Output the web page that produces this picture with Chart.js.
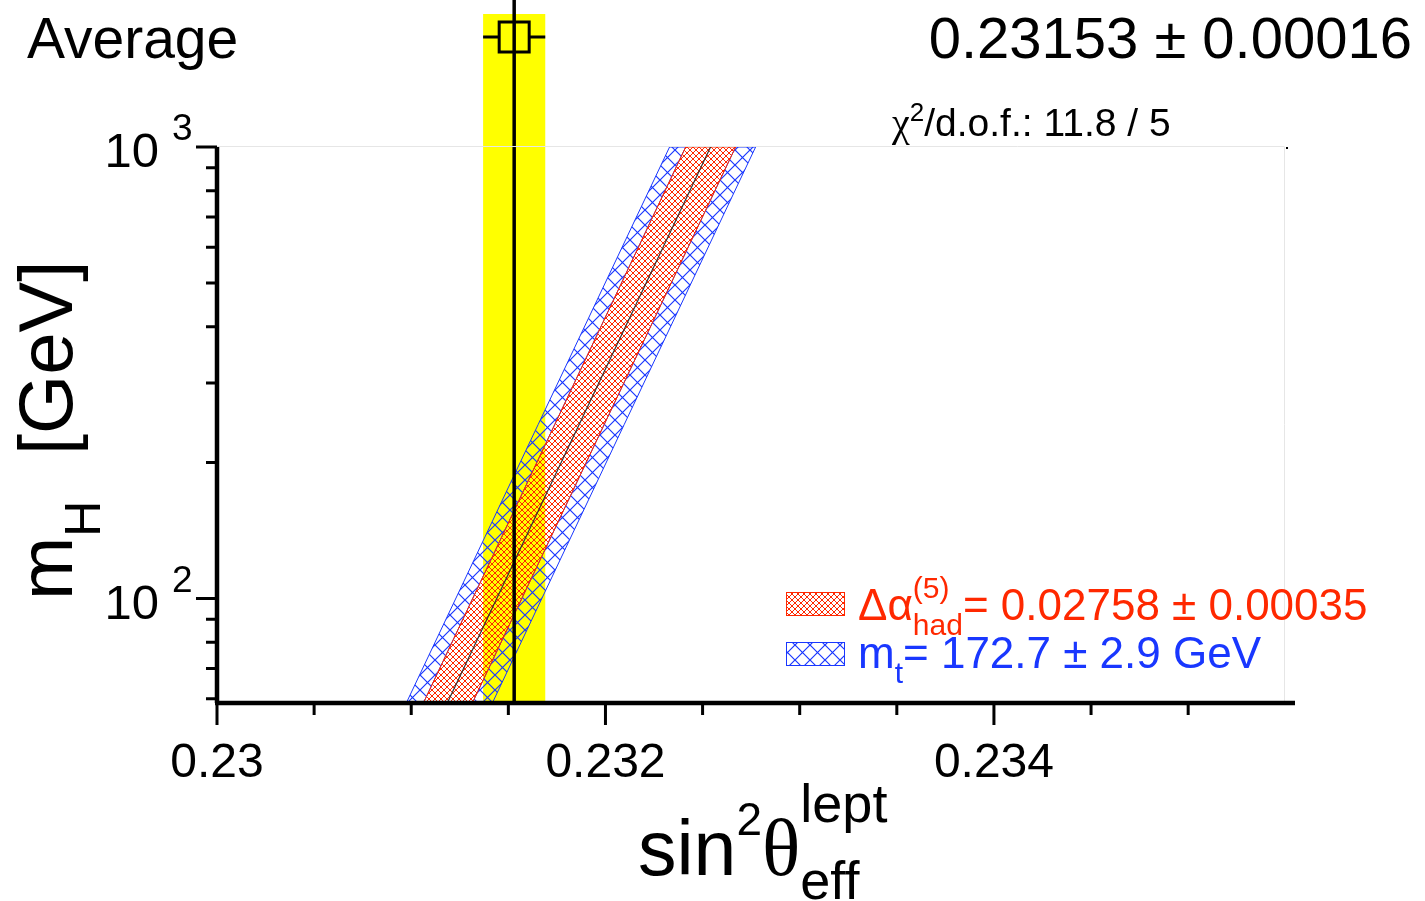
<!DOCTYPE html>
<html>
<head>
<meta charset="utf-8">
<script src="https://cdn.jsdelivr.net/npm/chart.js@4.4.1/dist/chart.umd.min.js"></script>
<style>
  html, body { margin: 0; padding: 0; background: #fff; }
  #wrap { width: 1425px; height: 901px; position: relative; }
</style>
</head>
<body>
<div id="wrap"><canvas id="c" width="1425" height="901"></canvas></div>
<script>
// band edges (sin2theta), sampled at both ends of the mH range
const mH       = [59, 1000]
const blueLow  = [0.230977, 0.232330]
const redLow   = [0.231065, 0.232413]
const central  = [0.231188, 0.232541]
const redHigh  = [0.231317, 0.232670]
const blueHigh = [0.231420, 0.232773]

const average    = 0.23153
const averageErr = 0.00016

const xMajorTicks  = [0.23, 0.232, 0.234]
const xMajorLabels = ['0.23', '0.232', '0.234']
const xMinorTicks  = [0.2305, 0.231, 0.2315, 0.2325, 0.233, 0.2335, 0.2345, 0.235]
const yMajorTicks  = [100, 1000]
const yMajorExp    = ['2', '3']
const yMinorTicks  = [60, 70, 80, 90, 200, 300, 400, 500, 600, 700, 800, 900]

const RED  = 'rgb(255,40,0)'
const BLUE = 'rgb(25,55,255)'
const SANS = '"Liberation Sans", Arial, Helvetica, sans-serif'
const SERIF = '"Liberation Serif", "Times New Roman", serif'

function hatch(color, size, width) {
  const c = document.createElement('canvas')
  c.width = c.height = size
  const g = c.getContext('2d')
  g.strokeStyle = color
  g.lineWidth = width
  g.beginPath()
  for (let k = -1; k <= 1; k++) {
    g.moveTo(k * size, 0); g.lineTo(k * size + size, size)
    g.moveTo(k * size + size, 0); g.lineTo(k * size, size)
  }
  g.stroke()
  return g.createPattern(c, 'repeat')
}
const redHatch  = hatch(RED, 6, 1)
const blueHatch = hatch(BLUE, 15, 1.2)

const strip = (lo, hi) => [
  { x: lo[0], y: mH[0] }, { x: lo[1], y: mH[1] },
  { x: hi[1], y: mH[1] }, { x: hi[0], y: mH[0] },
]

// draw a run of text pieces; a piece can be {t,size,dy,fam,color} or a stacked {sup,sub,size,up,down}
function rich(ctx, x, y, parts, align, color) {
  const w = p => {
    if (p.sup !== undefined) {
      ctx.font = `${p.size}px ${SANS}`
      return Math.max(ctx.measureText(p.sup).width, ctx.measureText(p.sub).width)
    }
    ctx.font = `${p.size}px ${p.fam || SANS}`
    return ctx.measureText(p.t).width
  }
  let total = 0
  for (const p of parts) total += w(p)
  let cx = align === 'right' ? x - total : align === 'center' ? x - total / 2 : x
  ctx.textAlign = 'left'
  ctx.textBaseline = 'alphabetic'
  for (const p of parts) {
    const pw = w(p)
    ctx.fillStyle = p.color || color || '#000'
    if (p.sup !== undefined) {
      ctx.font = `${p.size}px ${SANS}`
      ctx.fillText(p.sup, cx, y - p.up)
      ctx.fillText(p.sub, cx, y + p.down)
    } else {
      ctx.font = `${p.size}px ${p.fam || SANS}`
      ctx.fillText(p.t, cx, y + (p.dy || 0))
    }
    cx += pw
  }
}

const decor = {
  id: 'decor',
  beforeDatasetsDraw(chart) {
    const { ctx, chartArea, scales: { x } } = chart
    const l = x.getPixelForValue(average - averageErr)
    const r = x.getPixelForValue(average + averageErr)
    ctx.save()
    ctx.fillStyle = '#ffff00'
    ctx.fillRect(l, 14, r - l, chartArea.bottom - 14)
    ctx.restore()
  },
  afterDatasetsDraw(chart) {
    const { ctx, chartArea, scales: { x } } = chart
    const cxp = x.getPixelForValue(average)
    const l = x.getPixelForValue(average - averageErr)
    const r = x.getPixelForValue(average + averageErr)
    ctx.save()
    ctx.strokeStyle = '#000'
    ctx.lineWidth = 3.5
    ctx.beginPath()
    ctx.moveTo(cxp, 0); ctx.lineTo(cxp, chartArea.bottom)
    ctx.stroke()
    // marker with error bar
    const my = 37, h = 15
    ctx.lineWidth = 3
    ctx.strokeRect(cxp - h, my - h, 2 * h, 2 * h)
    ctx.beginPath()
    ctx.moveTo(l, my); ctx.lineTo(cxp - h, my)
    ctx.moveTo(cxp + h, my); ctx.lineTo(r, my)
    ctx.stroke()
    ctx.restore()
  },
  afterDraw(chart) {
    const { ctx, chartArea: a, scales: { x, y } } = chart
    ctx.save()
    // faint frame top / right
    ctx.strokeStyle = '#e6e6e6'
    ctx.lineWidth = 1
    ctx.beginPath()
    ctx.moveTo(a.left, a.top - 0.5); ctx.lineTo(1284.5, a.top - 0.5)
    ctx.moveTo(1284.5, a.top); ctx.lineTo(1284.5, a.bottom)
    ctx.stroke()
    ctx.fillStyle = '#000'
    ctx.fillRect(1286, 147, 2, 2)

    // axes
    ctx.strokeStyle = '#000'
    ctx.lineWidth = 4.5
    ctx.beginPath()
    ctx.moveTo(a.left, a.top); ctx.lineTo(a.left, a.bottom + 1)
    ctx.moveTo(a.left - 2, a.bottom + 1); ctx.lineTo(a.right, a.bottom + 1)
    ctx.stroke()

    ctx.lineWidth = 3
    ctx.beginPath()
    for (const v of xMajorTicks) {
      const px = x.getPixelForValue(v)
      ctx.moveTo(px, a.bottom + 1); ctx.lineTo(px, a.bottom + 23)
    }
    for (const v of xMinorTicks) {
      const px = x.getPixelForValue(v)
      ctx.moveTo(px, a.bottom + 1); ctx.lineTo(px, a.bottom + 13)
    }
    for (const v of yMajorTicks) {
      const py = y.getPixelForValue(v)
      ctx.moveTo(a.left, py); ctx.lineTo(a.left - 21, py)
    }
    for (const v of yMinorTicks) {
      const py = y.getPixelForValue(v)
      ctx.moveTo(a.left, py); ctx.lineTo(a.left - 11, py)
    }
    ctx.stroke()

    // tick labels
    ctx.fillStyle = '#000'
    ctx.textBaseline = 'alphabetic'
    xMajorTicks.forEach((v, i) => {
      ctx.font = `48px ${SANS}`
      ctx.textAlign = 'center'
      ctx.fillText(xMajorLabels[i], x.getPixelForValue(v), 777)
    })
    yMajorTicks.forEach((v, i) => {
      const py = y.getPixelForValue(v)
      ctx.font = `49px ${SANS}`
      ctx.textAlign = 'right'
      ctx.fillText('10', 159, py + 20)
      ctx.font = `37px ${SANS}`
      ctx.textAlign = 'left'
      ctx.fillText(yMajorExp[i], 172, py - 7)
    })

    // titles
    rich(ctx, 27, 58, [{ t: 'Average', size: 57 }], 'left')
    rich(ctx, 1412, 58, [{ t: '0.23153 \u00b1 0.00016', size: 58 }], 'right')
    rich(ctx, 892, 136, [
      { t: '\u03c7', size: 40, fam: SERIF },
      { t: '2', size: 26, dy: -15 },
      { t: '/d.o.f.: 11.8 / 5', size: 39 },
    ], 'left')

    // x axis title
    rich(ctx, 638, 875, [
      { t: 'sin', size: 77 },
      { t: '2', size: 46, dy: -40 },
      { t: '\u03b8', size: 80, fam: SERIF },
      { sup: 'lept', sub: 'eff', size: 54, up: 53, down: 24 },
    ], 'left')

    // y axis title (rotated)
    ctx.save()
    ctx.translate(72, 600)
    ctx.rotate(-Math.PI / 2)
    rich(ctx, 0, 0, [
      { t: 'm', size: 76 },
      { t: 'H', size: 50, dy: 28 },
    ], 'left')
    rich(ctx, 145, 0, [{ t: '[GeV]', size: 76 }], 'left')
    ctx.restore()

    // legend
    const sw = [[RED, redHatch, 592], [BLUE, blueHatch, 642]]
    for (const [col, pat, top] of sw) {
      ctx.fillStyle = pat
      ctx.fillRect(786, top, 59, 24)
      ctx.strokeStyle = col
      ctx.lineWidth = 1
      ctx.strokeRect(786.5, top + 0.5, 58, 23)
    }
    rich(ctx, 858, 620, [
      { t: '\u0394\u03b1', size: 44 },
      { sup: '(5)', sub: 'had', size: 30, up: 22, down: 15 },
      { t: '= 0.02758 \u00b1 0.00035', size: 44 },
    ], 'left', RED)
    rich(ctx, 858, 668, [
      { t: 'm', size: 44 },
      { t: 't', size: 30, dy: 15 },
      { t: '= 172.7 \u00b1 2.9 GeV', size: 44 },
    ], 'left', BLUE)
    ctx.restore()
  },
}

new Chart(document.getElementById('c'), {
  type: 'line',
  data: {
    // first dataset is drawn on top
    datasets: [
      {
        label: 'central',
        data: [{ x: central[0], y: mH[0] }, { x: central[1], y: mH[1] }],
        borderColor: '#333', borderWidth: 1.2, fill: false,
      },
      {
        label: 'alpha_had band',
        data: strip(redLow, redHigh),
        borderColor: RED, borderWidth: 1, backgroundColor: redHatch, fill: 'shape',
      },
      {
        label: 'm_t band (low)',
        data: strip(blueLow, redLow),
        borderColor: BLUE, borderWidth: 1, backgroundColor: blueHatch, fill: 'shape',
      },
      {
        label: 'm_t band (high)',
        data: strip(redHigh, blueHigh),
        borderColor: BLUE, borderWidth: 1, backgroundColor: blueHatch, fill: 'shape',
      },
    ],
  },
  options: {
    responsive: false,
    animation: false,
    layout: { padding: { left: 217, right: 130, top: 147, bottom: 199 } },
    elements: { point: { radius: 0, hoverRadius: 0 }, line: { tension: 0 } },
    scales: {
      x: { type: 'linear', min: 0.23, max: 0.23555, display: false },
      y: { type: 'logarithmic', min: 59, max: 1000, display: false },
    },
    plugins: { legend: { display: false }, tooltip: { enabled: false } },
  },
  plugins: [decor],
})
</script>
</body>
</html>
